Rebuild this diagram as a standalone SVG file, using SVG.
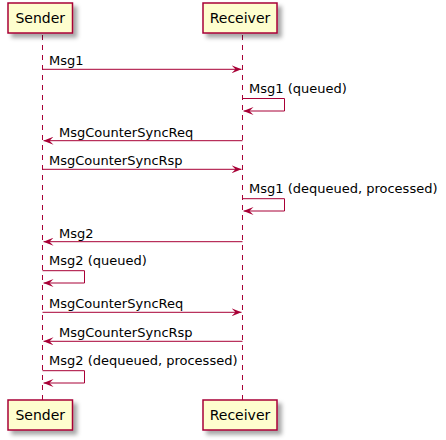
<svg xmlns="http://www.w3.org/2000/svg" width="446" height="440" viewBox="0 0 446 440">
<defs>
<filter id="sh" x="-1" y="-1" width="300%" height="300%">
<feGaussianBlur in="SourceAlpha" stdDeviation="2"/>
<feOffset dx="4" dy="4" result="b"/>
<feColorMatrix in="b" type="matrix" values="0 0 0 0 0  0 0 0 0 0  0 0 0 0 0  0 0 0 0.35 0"/>
<feMerge><feMergeNode/><feMergeNode in="SourceGraphic"/></feMerge>
</filter>
<marker id="ah" viewBox="0 0 10 8" refX="10" refY="4" markerWidth="10" markerHeight="8" markerUnits="userSpaceOnUse" orient="auto">
<polygon points="0,0 10,4 0,8 4,4" fill="#A80036"/>
</marker>
</defs>
<style>
.box{fill:#FEFECE;stroke:#A80036;stroke-width:1.5}
.pt{font-family:"DejaVu Sans",sans-serif;font-size:14px;fill:#000;text-anchor:middle}
.life{stroke:#A80036;stroke-width:1;stroke-dasharray:5,5;fill:none}
.msg{stroke:#A80036;stroke-width:1;fill:none;marker-end:url(#ah)}
.ml{font-family:"DejaVu Sans",sans-serif;font-size:13px;fill:#000}
</style>
<g id="lifelines">
<line class="life" x1="42.5" y1="35" x2="42.5" y2="400"/>
<line class="life" x1="242.5" y1="35" x2="242.5" y2="400"/>
</g>
<g id="sender-top"><rect class="box" filter="url(#sh)" x="8" y="3" width="64.5" height="30"/><text class="pt" x="40.2" y="23">Sender</text></g>
<g id="receiver-top"><rect class="box" filter="url(#sh)" x="203" y="3" width="74" height="30"/><text class="pt" x="240" y="23">Receiver</text></g>
<g id="sender-bottom"><rect class="box" filter="url(#sh)" x="8" y="400" width="64.5" height="30"/><text class="pt" x="40.2" y="420">Sender</text></g>
<g id="receiver-bottom"><rect class="box" filter="url(#sh)" x="203" y="400" width="74" height="30"/><text class="pt" x="240" y="420">Receiver</text></g>
<g id="connectors">
<line class="msg" x1="42.5" y1="69.3" x2="241.5" y2="69.3"/>
<text class="ml" x="49" y="65">Msg1</text>
<polyline class="msg" points="242.5,98.5 284.5,98.5 284.5,111 243.5,111"/>
<text class="ml" x="249" y="92.5">Msg1 (queued)</text>
<line class="msg" x1="242.5" y1="140.7" x2="43.5" y2="140.7"/>
<text class="ml" x="59" y="136.5">MsgCounterSyncReq</text>
<line class="msg" x1="42.5" y1="169.3" x2="241.5" y2="169.3"/>
<text class="ml" x="49" y="165">MsgCounterSyncRsp</text>
<polyline class="msg" points="242.5,198.7 284.5,198.7 284.5,211 243.5,211"/>
<text class="ml" x="249" y="192.7">Msg1 (dequeued, processed)</text>
<line class="msg" x1="242.5" y1="241.7" x2="43.5" y2="241.7"/>
<text class="ml" x="59" y="237.5">Msg2</text>
<polyline class="msg" points="42.5,270.7 84.5,270.7 84.5,283 43.5,283"/>
<text class="ml" x="49" y="264.7">Msg2 (queued)</text>
<line class="msg" x1="42.5" y1="312.3" x2="241.5" y2="312.3"/>
<text class="ml" x="49" y="308">MsgCounterSyncReq</text>
<line class="msg" x1="242.5" y1="341.3" x2="43.5" y2="341.3"/>
<text class="ml" x="59" y="337">MsgCounterSyncRsp</text>
<polyline class="msg" points="42.5,370.7 84.5,370.7 84.5,383 43.5,383"/>
<text class="ml" x="49" y="364.7">Msg2 (dequeued, processed)</text>
</g>
</svg>
